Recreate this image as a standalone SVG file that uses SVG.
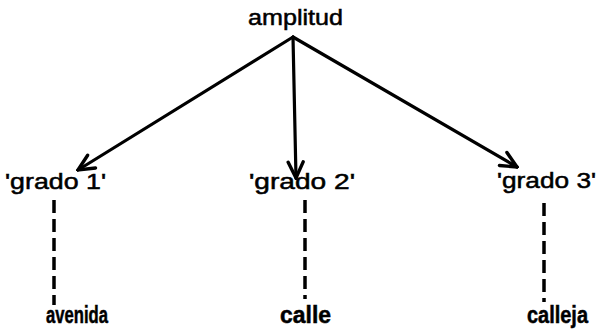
<svg xmlns="http://www.w3.org/2000/svg" width="599" height="329" viewBox="0 0 599 329">
<style>
.t{font-family:"Liberation Sans",Arial,sans-serif;font-size:22px;fill:#000;stroke:#000;stroke-width:0.5}
.b{font-family:"Liberation Sans",Arial,sans-serif;font-size:23px;font-weight:bold;fill:#000;stroke:#000;stroke-width:0.5}
.a{stroke:#000;stroke-width:3.2;fill:none;stroke-linecap:round}
.d{stroke:#000;stroke-width:3.5;fill:none;stroke-dasharray:13 6}
</style>
<defs>
<marker id="ah" viewBox="0 0 20 20" refX="18" refY="10" markerWidth="20" markerHeight="20" markerUnits="userSpaceOnUse" orient="auto">
<path d="M2,2.5 L18,10 L2,17.5" fill="none" stroke="#000" stroke-width="3.4" stroke-linecap="round" stroke-linejoin="miter"/>
</marker>
</defs>
<rect width="599" height="329" fill="#fff"/>
<g id="connectors">
<line class="a" x1="293" y1="37" x2="78" y2="170" marker-end="url(#ah)"/>
<line class="a" x1="293" y1="37" x2="296" y2="178" marker-end="url(#ah)"/>
<line class="a" x1="293" y1="37" x2="517" y2="167" marker-end="url(#ah)"/>
<line class="d" x1="54" y1="200" x2="54" y2="305"/>
<line class="d" x1="305" y1="200" x2="305" y2="299"/>
<line class="d" x1="544" y1="203" x2="544" y2="302"/>
</g>
<g id="amplitud"><text class="t" x="248" y="25" textLength="95" lengthAdjust="spacingAndGlyphs">amplitud</text></g>
<g id="grado1"><text class="t" x="5" y="189" textLength="101" lengthAdjust="spacingAndGlyphs">'grado 1'</text></g>
<g id="grado2"><text class="t" x="249" y="189" textLength="106" lengthAdjust="spacingAndGlyphs">'grado 2'</text></g>
<g id="grado3"><text class="t" x="497" y="188" textLength="99" lengthAdjust="spacingAndGlyphs">'grado 3'</text></g>
<g id="avenida"><text class="b" x="46" y="323" textLength="62" lengthAdjust="spacingAndGlyphs">avenida</text></g>
<g id="calle"><text class="b" x="280" y="323" textLength="51" lengthAdjust="spacingAndGlyphs">calle</text></g>
<g id="calleja"><text class="b" x="527" y="323" textLength="61" lengthAdjust="spacingAndGlyphs">calleja</text></g>
</svg>
